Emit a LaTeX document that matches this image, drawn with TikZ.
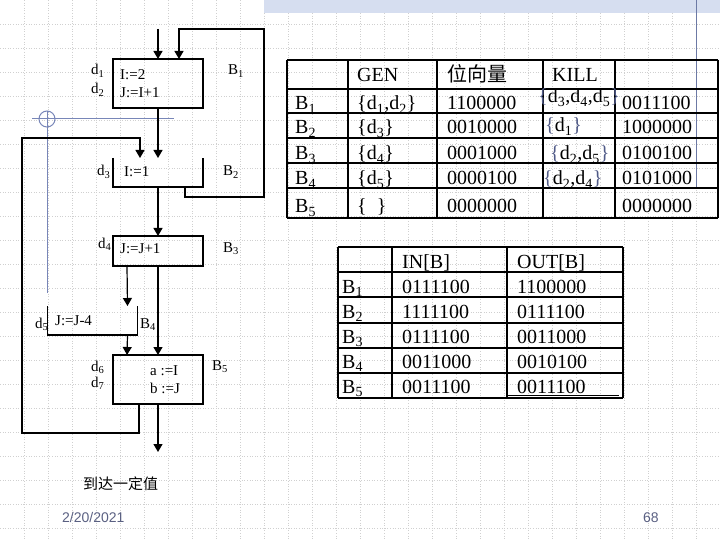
\documentclass[tikz,border=0pt]{standalone}
\usepackage{fontspec}
\setmainfont{Liberation Serif}
\newfontfamily\cjk{Noto Sans CJK SC}
\newfontfamily\sansf{Liberation Sans}
\usetikzlibrary{arrows.meta,calc}
\newcommand\mysub[1]{\textsubscript{#1}}
\definecolor{gridc}{RGB}{208,208,208}
\definecolor{bandc}{RGB}{214,222,240}
\definecolor{markc}{RGB}{120,134,184}
\definecolor{datec}{RGB}{90,96,130}
\definecolor{bracec}{RGB}{80,90,135}
\tikzset{
  box/.style={draw, line width=1.2pt, inner sep=0pt, outer sep=0pt, minimum width=90pt},
  openbox/.style={inner sep=0pt, outer sep=0pt, minimum width=90pt},
  arr/.style={line width=1.2pt, -{Triangle[width=9pt,length=8pt]}},
  flowtxt/.style={anchor=base west, inner sep=0pt, font=\fontsize{15}{17}\selectfont},
  tbl/.style={anchor=base west, inner sep=0pt, font=\fontsize{20}{24}\selectfont},
  tline/.style={line width=1.6pt},
}
\begin{document}
\begin{tikzpicture}[x=1pt,y=-1pt]
\useasboundingbox (0,0) rectangle (720,540);
% background grid
\foreach \i in {1,...,29} {\draw[gridc, dotted, line width=0.6pt] (24*\i,0) -- (24*\i,540);}
\foreach \j in {1,...,22} {\draw[gridc, dotted, line width=0.6pt] (0,24*\j) -- (720,24*\j);}
% top band and marks
\fill[bandc] (264,0) rectangle (720,13);
\draw[markc!90!black, line width=1pt] (696,0) -- (696,187);
\draw[markc, line width=1pt] (32,119) -- (174,119);
\draw[markc, line width=1pt] (47,111) -- (47,293);
\draw[markc, line width=1pt] (47,119) circle (8);

% ---------- flow graph ----------
\node[box, minimum height=49pt] (b1) at (158,83.5) {};
\node[openbox, minimum height=29pt] (b2) at (158,172.5) {};
\draw[line width=1.2pt] (b2.north west) -- (b2.south west) -- (b2.south east) -- (b2.north east);
\node[box, minimum height=30pt] (b3) at (158,251) {};
\node[openbox, minimum height=29pt] (b4) at (92.5,320.5) {};
\draw[line width=1.2pt] (b4.north west) -- (b4.south west) -- (b4.south east) -- (b4.north east);
\node[box, minimum height=49pt] (b5) at (158,379.5) {};

\node[flowtxt] (t1) at (120,80) {I:=2};
\node[flowtxt] (t2) at (120,98) {J:=I+1};
\node[flowtxt] (d1) at (91,75) {d\mysub{1}};
\node[flowtxt] (d2) at (91,94) {d\mysub{2}};
\node[flowtxt] (lb1) at (228,75) {B\mysub{1}};

\node[flowtxt] (t3) at (124,177) {I:=1};
\node[flowtxt] (d3) at (97,176) {d\mysub{3}};
\node[flowtxt] (lb2) at (223,176) {B\mysub{2}};

\node[flowtxt] (t4) at (120,253) {J:=J+1};
\node[flowtxt] (d4) at (98,248) {d\mysub{4}};
\node[flowtxt] (lb3) at (223,252) {B\mysub{3}};

\node[flowtxt] (t5) at (55,325) {J:=J-4};
\node[flowtxt] (d5) at (35,328) {d\mysub{5}};
\node[flowtxt] (lb4) at (140,328) {B\mysub{4}};

\node[flowtxt] (t6) at (150,375) {a :=I};
\node[flowtxt] (t7) at (150,393) {b :=J};
\node[flowtxt] (d6) at (91,371) {d\mysub{6}};
\node[flowtxt] (d7) at (91,387) {d\mysub{7}};
\node[flowtxt] (lb5) at (212,370) {B\mysub{5}};

\coordinate (s0) at (158,29);
\coordinate (r2) at (264,29);
\coordinate (l2) at (22,138);
\coordinate (endc) at (158,452);

\draw[arr] (s0) -- (b1.north);
\draw[arr] ($(b2.south west)+(72,0)$) -- ++(0,10) -| (r2) -| ($(b1.north west)+(66,0)$);
\draw[arr] (b1.south) -- (b2.north);
\draw[arr] ($(b5.south west)+(26,0)$) -- ++(0,29) -| (l2) -| ($(b2.north west)+(27,0)$);
\draw[arr] (b2.south) -- (b3.north);
\draw[arr] ($(b3.south west)+(14,0)$) -- ($(b4.north east)+(-10,0)$);
\draw[arr] (b3.south) -- (b5.north);
\draw[arr] ($(b4.south east)+(-10,0)$) -- ($(b5.north west)+(14,0)$);
\draw[arr] (b5.south) -- (endc);

\node[anchor=base west, inner sep=0pt, font=\cjk\fontsize{15}{17}\selectfont] (reach) at (83,489) {到达一定值};

% ---------- table 1 ----------
\foreach \y in {60,89,113,138,163,188,218} {\draw[tline] (287,\y) -- (718,\y);}
\foreach \x in {287,348,437,543,615,718} {\draw[tline] (\x,60) -- (\x,218);}

\node[tbl] (h1) at (357,82) {GEN};
\node[tbl, font=\cjk\fontsize{20}{24}\selectfont] (h2) at (447,82) {位向量};
\node[tbl] (h3) at (552,82) {KILL};

\node[tbl] (ra1) at (295,110) {B\mysub{1}};
\node[tbl] (ra2) at (295,134) {B\mysub{2}};
\node[tbl] (ra3) at (295,160) {B\mysub{3}};
\node[tbl] (ra4) at (295,185) {B\mysub{4}};
\node[tbl] (ra5) at (295,213) {B\mysub{5}};

\node[tbl] (g1) at (357,110) {\{d\mysub{1},d\mysub{2}\}};
\node[tbl] (g2) at (357,134) {\{d\mysub{3}\}};
\node[tbl] (g3) at (357,160) {\{d\mysub{4}\}};
\node[tbl] (g4) at (357,185) {\{d\mysub{5}\}};
\node[tbl] (g5) at (357,213) {\{\ \ \}};

\node[tbl] (v1) at (447,110) {1100000};
\node[tbl] (v2) at (447,134) {0010000};
\node[tbl] (v3) at (447,160) {0001000};
\node[tbl] (v4) at (447,185) {0000100};
\node[tbl] (v5) at (447,213) {0000000};

\node[tbl] (k1) at (538,103) {\textcolor{bracec}{\{}d\mysub{3},d\mysub{4},d\mysub{5}\textcolor{bracec}{\}}};
\node[tbl] (k2) at (545,132) {\textcolor{bracec}{\{}d\mysub{1}\textcolor{bracec}{\}}};
\node[tbl] (k3) at (550,160) {\textcolor{bracec}{\{}d\mysub{2},d\mysub{5}\textcolor{bracec}{\}}};
\node[tbl] (k4) at (543,185) {\textcolor{bracec}{\{}d\mysub{2},d\mysub{4}\textcolor{bracec}{\}}};

\node[tbl] (w1) at (622,110) {0011100};
\node[tbl] (w2) at (622,134) {1000000};
\node[tbl] (w3) at (622,160) {0100100};
\node[tbl] (w4) at (622,185) {0101000};
\node[tbl] (w5) at (622,213) {0000000};

% ---------- table 2 ----------
\foreach \y in {247,272,297,323,348,373,398} {\draw[tline] (338,\y) -- (623,\y);}
\foreach \x in {338,392,507,623} {\draw[tline] (\x,247) -- (\x,398);}
\draw[line width=0.8pt] (506,395) -- (619,395);

\node[tbl] (ih) at (402,268) {IN[B]};
\node[tbl] (oh) at (517,268) {OUT[B]};
\node[tbl] (rb1) at (342,293) {B\mysub{1}};
\node[tbl] (rb2) at (342,318) {B\mysub{2}};
\node[tbl] (rb3) at (342,343) {B\mysub{3}};
\node[tbl] (rb4) at (342,368) {B\mysub{4}};
\node[tbl] (rb5) at (342,393) {B\mysub{5}};
\node[tbl] (i1) at (402,293) {0111100};
\node[tbl] (i2) at (402,318) {1111100};
\node[tbl] (i3) at (402,343) {0111100};
\node[tbl] (i4) at (402,368) {0011000};
\node[tbl] (i5) at (402,393) {0011100};
\node[tbl] (o1) at (517,293) {1100000};
\node[tbl] (o2) at (517,318) {0111100};
\node[tbl] (o3) at (517,343) {0011000};
\node[tbl] (o4) at (517,368) {0010100};
\node[tbl] (o5) at (517,393) {0011100};

% footer
\node[anchor=base west, inner sep=0pt, text=datec, font=\sansf\fontsize{14}{16}\selectfont] (date) at (62,522) {2/20/2021};
\node[anchor=base west, inner sep=0pt, text=datec, font=\sansf\fontsize{14}{16}\selectfont] (page) at (643,522) {68};
\end{tikzpicture}
\end{document}
